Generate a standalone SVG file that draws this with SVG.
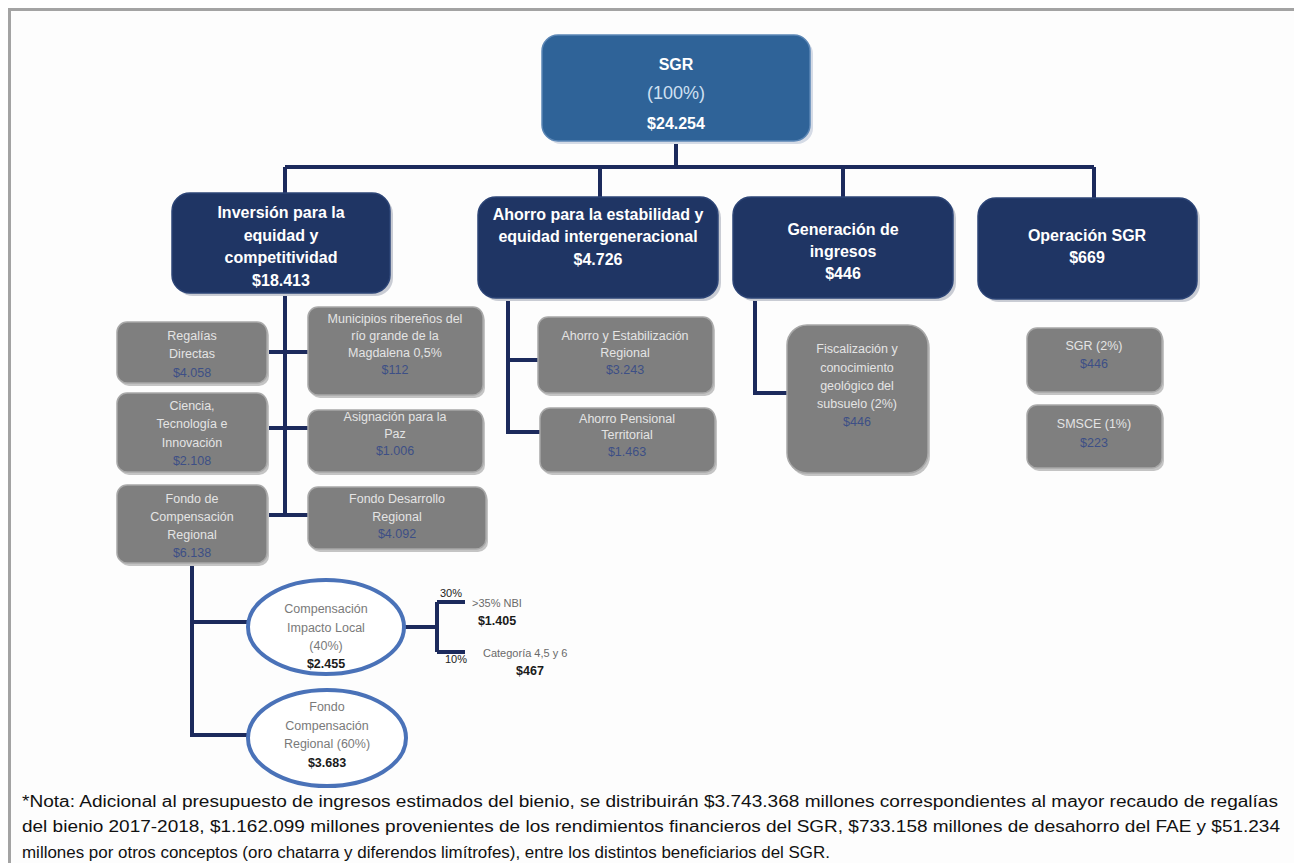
<svg xmlns="http://www.w3.org/2000/svg" width="1294" height="863" viewBox="0 0 1294 863">
<style>
.frame{fill:#fdfdfd;stroke:#a3a3a3;stroke-width:3}
.navy{fill:#1f3564;stroke:#2c4476;stroke-width:1.5}
.shadow{fill:#c9ccd4}
.gray{fill:#7f7f7f;stroke:#a8a8a8;stroke-width:1.5}
.gshadow{fill:#c4c4c4}
.wt{font-family:"Liberation Sans",Arial,sans-serif;font-weight:bold;font-size:16px;fill:#ffffff;text-anchor:middle}
.gt{font-family:"Liberation Sans",Arial,sans-serif;font-size:12.5px;fill:#e4e4e4;text-anchor:middle}
.amt{font-family:"Liberation Sans",Arial,sans-serif;font-size:12.5px;fill:#3d4f86;text-anchor:middle}
.conn{fill:none;stroke:#1c2a5c;stroke-width:4}
.ell{fill:#ffffff;stroke:#4a72b8;stroke-width:4}
.et{font-family:"Liberation Sans",Arial,sans-serif;font-size:12.5px;fill:#7a7a7a;text-anchor:middle}
.eb{font-family:"Liberation Sans",Arial,sans-serif;font-size:12.5px;font-weight:bold;fill:#1a1a1a;text-anchor:middle}
.sm{font-family:"Liberation Sans",Arial,sans-serif;font-size:11px;fill:#6a6a6a}
.pct{font-family:"Liberation Sans",Arial,sans-serif;font-size:11px;fill:#222222}
.note{font-family:"Liberation Sans",Arial,sans-serif;font-size:16px;fill:#111111}
</style>
<rect class="frame" x="9.5" y="9.5" width="1300" height="870"/>

<g id="connectors">
  <path class="conn" d="M676,142 V167 M285,167 H1094 M285,167 V195 M600,167 V197 M843,167 V197 M1094,167 V199"/>
  <path class="conn" d="M285,290 V515 M267,352 H308 M267,428 H308 M267,515 H308"/>
  <path class="conn" d="M508,297 V432 H540 M508,360 H538"/>
  <path class="conn" d="M755,297 V393 H787"/>
  <path class="conn" d="M192,563 V735 H250 M192,622 H248"/>
  <path class="conn" d="M405,627 H437 M437,602 V652 M437,602 H465 M437,652 H465"/>
</g>

<g id="sgr">
  <rect x="545" y="38" width="268" height="106" rx="16" fill="#d5dbe6"/>
  <rect x="542" y="35" width="268" height="106" rx="16" fill="#2f6398" stroke="#5b86b5" stroke-width="1.5"/>
  <text x="676" y="70" class="wt" font-size="18">SGR</text>
  <text x="676" y="99" font-family="Liberation Sans,Arial,sans-serif" font-size="18" fill="#cfe0f2" text-anchor="middle">(100%)</text>
  <text x="676" y="129" class="wt" font-size="21">$24.254</text>
</g>

<g id="inversion">
  <rect class="shadow" x="175" y="196" width="218" height="100" rx="18"/>
  <rect class="navy" x="172" y="193" width="218" height="100" rx="18"/>
  <text class="wt" x="281" y="218">Inversión para la</text>
  <text class="wt" x="281" y="241">equidad y</text>
  <text class="wt" x="281" y="263">competitividad</text>
  <text class="wt" x="281" y="286">$18.413</text>
</g>

<g id="ahorro">
  <rect class="shadow" x="481" y="200" width="240" height="101" rx="18"/>
  <rect class="navy" x="478" y="197" width="240" height="101" rx="18"/>
  <text class="wt" x="598" y="220">Ahorro para la estabilidad y</text>
  <text class="wt" x="598" y="242">equidad intergeneracional</text>
  <text class="wt" x="598" y="265">$4.726</text>
</g>

<g id="generacion">
  <rect class="shadow" x="736" y="200" width="220" height="101" rx="18"/>
  <rect class="navy" x="733" y="197" width="220" height="101" rx="18"/>
  <text class="wt" x="843" y="235">Generación de</text>
  <text class="wt" x="843" y="257">ingresos</text>
  <text class="wt" x="843" y="279">$446</text>
</g>

<g id="operacion">
  <rect class="shadow" x="981" y="201" width="219" height="101" rx="18"/>
  <rect class="navy" x="978" y="198" width="219" height="101" rx="18"/>
  <text class="wt" x="1087" y="241">Operación SGR</text>
  <text class="wt" x="1087" y="263">$669</text>
</g>

<g id="regalias">
  <rect class="gshadow" x="119" y="325" width="150" height="61" rx="10"/>
  <rect class="gray" x="117" y="322" width="150" height="61" rx="10"/>
  <text class="gt" x="192" y="340">Regalías</text>
  <text class="gt" x="192" y="358">Directas</text>
  <text class="amt" x="192" y="377">$4.058</text>
</g>

<g id="municipios">
  <rect class="gshadow" x="310" y="310" width="175" height="88" rx="10"/>
  <rect class="gray" x="308" y="307" width="175" height="88" rx="10"/>
  <text class="gt" x="395" y="323">Municipios ribereños del</text>
  <text class="gt" x="395" y="340">río grande de la</text>
  <text class="gt" x="395" y="357">Magdalena 0,5%</text>
  <text class="amt" x="395" y="374">$112</text>
</g>

<g id="ciencia">
  <rect class="gshadow" x="119" y="396" width="150" height="79" rx="10"/>
  <rect class="gray" x="117" y="393" width="150" height="79" rx="10"/>
  <text class="gt" x="192" y="410">Ciencia,</text>
  <text class="gt" x="192" y="428">Tecnología e</text>
  <text class="gt" x="192" y="447">Innovación</text>
  <text class="amt" x="192" y="465">$2.108</text>
</g>

<g id="asignacion">
  <rect class="gshadow" x="310" y="413" width="175" height="62" rx="10"/>
  <rect class="gray" x="308" y="410" width="175" height="62" rx="10"/>
  <text class="gt" x="395" y="421">Asignación para la</text>
  <text class="gt" x="395" y="438">Paz</text>
  <text class="amt" x="395" y="455">$1.006</text>
</g>

<g id="fondo-compensacion">
  <rect class="gshadow" x="119" y="488" width="150" height="78" rx="10"/>
  <rect class="gray" x="117" y="485" width="150" height="78" rx="10"/>
  <text class="gt" x="192" y="503">Fondo de</text>
  <text class="gt" x="192" y="521">Compensación</text>
  <text class="gt" x="192" y="539">Regional</text>
  <text class="amt" x="192" y="557">$6.138</text>
</g>

<g id="fondo-desarrollo">
  <rect class="gshadow" x="310" y="490" width="178" height="62" rx="10"/>
  <rect class="gray" x="308" y="487" width="178" height="62" rx="10"/>
  <text class="gt" x="397" y="503">Fondo Desarrollo</text>
  <text class="gt" x="397" y="521">Regional</text>
  <text class="amt" x="397" y="538">$4.092</text>
</g>

<g id="ahorro-estabilizacion">
  <rect class="gshadow" x="540" y="320" width="175" height="76" rx="10"/>
  <rect class="gray" x="538" y="317" width="175" height="76" rx="10"/>
  <text class="gt" x="625" y="340" font-size="11.5">Ahorro y Estabilización</text>
  <text class="gt" x="625" y="357" font-size="11.5">Regional</text>
  <text class="amt" x="625" y="374">$3.243</text>
</g>

<g id="ahorro-pensional">
  <rect class="gshadow" x="542" y="411" width="175" height="64" rx="10"/>
  <rect class="gray" x="540" y="408" width="175" height="64" rx="10"/>
  <text class="gt" x="627" y="423">Ahorro Pensional</text>
  <text class="gt" x="627" y="439">Territorial</text>
  <text class="amt" x="627" y="456">$1.463</text>
</g>

<g id="fiscalizacion">
  <rect class="gshadow" x="789" y="328" width="141" height="148" rx="20"/>
  <rect class="gray" x="787" y="325" width="141" height="148" rx="20"/>
  <text class="gt" x="857" y="353">Fiscalización y</text>
  <text class="gt" x="857" y="372">conocimiento</text>
  <text class="gt" x="857" y="390">geológico del</text>
  <text class="gt" x="857" y="408">subsuelo (2%)</text>
  <text class="amt" x="857" y="426">$446</text>
</g>

<g id="sgr-2">
  <rect class="gshadow" x="1029" y="331" width="135" height="64" rx="10"/>
  <rect class="gray" x="1027" y="328" width="135" height="64" rx="10"/>
  <text class="gt" x="1094" y="350">SGR (2%)</text>
  <text class="amt" x="1094" y="368">$446</text>
</g>

<g id="smsce">
  <rect class="gshadow" x="1029" y="408" width="135" height="63" rx="10"/>
  <rect class="gray" x="1027" y="405" width="135" height="63" rx="10"/>
  <text class="gt" x="1094" y="428">SMSCE (1%)</text>
  <text class="amt" x="1094" y="447">$223</text>
</g>

<g id="compensacion-impacto">
  <ellipse class="ell" cx="326" cy="627" rx="78" ry="47"/>
  <text class="et" x="326" y="613">Compensación</text>
  <text class="et" x="326" y="632">Impacto Local</text>
  <text class="et" x="326" y="650">(40%)</text>
  <text class="eb" x="326" y="668">$2.455</text>
</g>

<g id="fondo-compensacion-regional">
  <ellipse class="ell" cx="327" cy="738" rx="79" ry="48"/>
  <text class="et" x="327" y="711">Fondo</text>
  <text class="et" x="327" y="730">Compensación</text>
  <text class="et" x="327" y="748">Regional (60%)</text>
  <text class="eb" x="327" y="767">$3.683</text>
</g>

<g id="nbi">
  <text class="pct" x="440" y="597">30%</text>
  <text class="sm" x="472" y="607">&gt;35% NBI</text>
  <text class="eb" x="497" y="625" font-size="11.5">$1.405</text>
</g>

<g id="categoria">
  <text class="pct" x="445" y="663">10%</text>
  <text class="sm" x="483" y="657">Categoría 4,5 y 6</text>
  <text class="eb" x="530" y="675" font-size="11.5">$467</text>
</g>

<g id="nota">
  <text class="note" x="22" y="807" textLength="1256" lengthAdjust="spacingAndGlyphs">*Nota: Adicional al presupuesto de ingresos estimados del bienio, se distribuirán $3.743.368 millones correspondientes al mayor recaudo de regalías</text>
  <text class="note" x="22" y="832" textLength="1258" lengthAdjust="spacingAndGlyphs">del bienio 2017-2018, $1.162.099 millones provenientes de los rendimientos financieros del SGR, $733.158 millones de desahorro del FAE y $51.234</text>
  <text class="note" x="22" y="858" textLength="808" lengthAdjust="spacingAndGlyphs">millones por otros conceptos (oro chatarra y diferendos limítrofes), entre los distintos beneficiarios del SGR.</text>
</g>
</svg>
